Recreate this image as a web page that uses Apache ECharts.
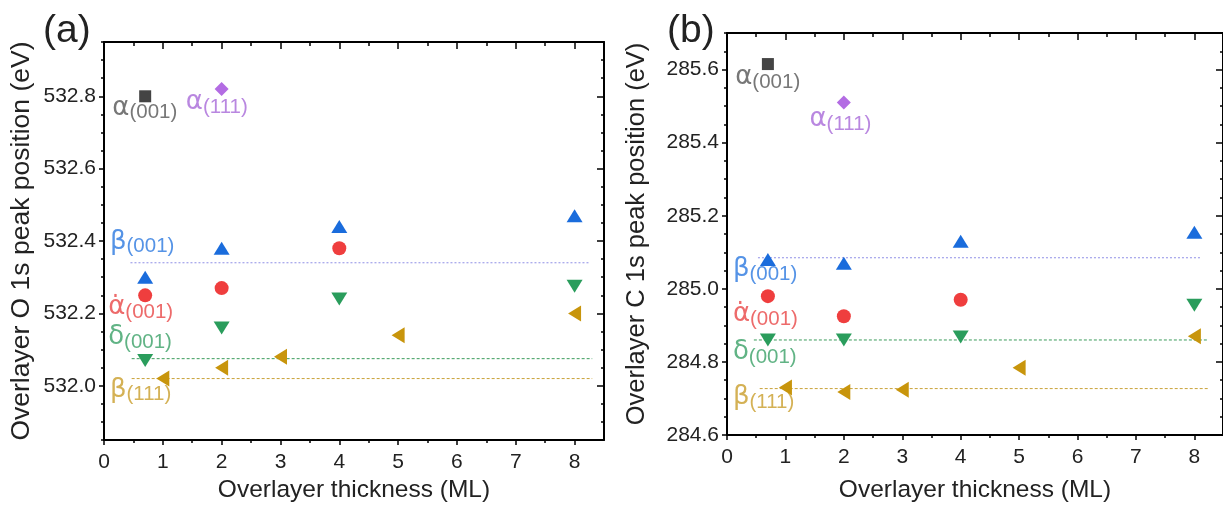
<!DOCTYPE html>
<html>
<head>
<meta charset="utf-8">
<script src="https://cdn.jsdelivr.net/npm/echarts@6/dist/echarts.min.js"></script>
<style>
  html, body { margin: 0; padding: 0; background: #fff; }
  #chart { width: 1223px; height: 508px; }
</style>
</head>
<body>
<div id="chart"></div>
<script>
// ---- Data: overlayer thickness (ML) vs. core-level peak position (eV) ----

// x axis ticks
const xTicks = [0, 1, 2, 3, 4, 5, 6, 7, 8];
const xMinorTicks = [0.5, 1.5, 2.5, 3.5, 4.5, 5.5, 6.5, 7.5];

// (a) O 1s peak position
const oTicks = [532.0, 532.2, 532.4, 532.6, 532.8];
const oAlpha001 = [[0.7, 532.80]];
const oAlpha111 = [[2, 532.82]];
const oBeta001 = [[0.7, 532.30], [2, 532.38], [4, 532.44], [8, 532.47]];
const oAlphaDot001 = [[0.7, 532.25], [2, 532.27], [4, 532.38]];
const oDelta001 = [[0.7, 532.07], [2, 532.16], [4, 532.24], [8, 532.275]];
const oBeta111 = [[1, 532.02], [2, 532.05], [3, 532.08], [5, 532.14], [8, 532.20]];
// bulk reference levels: [from x, to x, energy]
const oRefBeta001 = [0.45, 8.26, 532.34];
const oRefDelta001 = [0.47, 8.30, 532.075];
const oRefBeta111 = [0.47, 8.30, 532.02];

// (b) C 1s peak position
const cTicks = [284.6, 284.8, 285.0, 285.2, 285.4, 285.6];
const cAlpha001 = [[0.7, 285.615]];
const cAlpha111 = [[2, 285.51]];
const cBeta001 = [[0.7, 285.08], [2, 285.07], [4, 285.13], [8, 285.155]];
const cAlphaDot001 = [[0.7, 284.98], [2, 284.925], [4, 284.97]];
const cDelta001 = [[0.7, 284.86], [2, 284.86], [4, 284.868], [8, 284.955]];
const cBeta111 = [[1, 284.73], [2, 284.718], [3, 284.724], [5, 284.784], [8, 284.87]];
const cRefBeta001 = [0.53, 8.10, 285.085];
const cRefDelta001 = [0.46, 8.24, 284.86];
const cRefBeta111 = [0.56, 8.24, 284.727];

// phase labels: [greek letter, facet, x, y, colour key]
const oPhaseLabels = [
  ['α', '(001)', 0.14, 532.765, 'gray'],
  ['α', '(111)', 1.39, 532.78, 'purple'],
  ['β', '(001)', 0.10, 532.395, 'blue'],
  ['α\u0307', '(001)', 0.07, 532.213, 'red'],
  ['δ', '(001)', 0.07, 532.131, 'green'],
  ['β', '(111)', 0.10, 531.986, 'gold']
];
const cPhaseLabels = [
  ['α', '(001)', 0.14, 285.575, 'gray'],
  ['α', '(111)', 1.41, 285.46, 'purple'],
  ['β', '(001)', 0.10, 285.05, 'blue'],
  ['α\u0307', '(001)', 0.10, 284.927, 'red'],
  ['δ', '(001)', 0.10, 284.823, 'green'],
  ['β', '(111)', 0.10, 284.70, 'gold']
];

// ---- Styling ----
const FONT = "'Liberation Sans', Arial, Helvetica, sans-serif";
const GREEK_FONT = "'DejaVu Sans', 'Liberation Sans', sans-serif";
const COLORS = {
  gray:   { mark: '#444444', text: '#555555' },
  purple: { mark: '#b36ce3', text: '#a869d8' },
  blue:   { mark: '#1a6cdc', text: '#2a78e0' },
  red:    { mark: '#ef3e3e', text: '#e84646' },
  green:  { mark: '#2a9d5c', text: '#3aa067' },
  gold:   { mark: '#c8950c', text: '#c99d2a' }
};
const REF_COLORS = { blue: '#8f8fe6', green: '#3c9c5c', gold: '#c9a23a' };

function minorValues(min, max, step, majors) {
  const out = [];
  const n = Math.round((max - min) / step);
  for (let i = 0; i <= n; i++) {
    const v = Math.round((min + i * step) * 1000) / 1000;
    if (!majors.some(m => Math.abs(m - v) < 1e-6)) out.push(v);
  }
  return out;
}

function tickAxis(gridIndex, position, min, max, values, length, inside, lineShown) {
  return {
    type: 'value', gridIndex, position, min, max,
    axisLine: { show: lineShown, onZero: false, lineStyle: { color: '#000', width: 2 } },
    splitLine: { show: false },
    axisTick: { show: true, inside, length, customValues: values,
                lineStyle: { color: '#000', width: 1.5 } },
    axisLabel: { show: false },
    minorTick: { show: false }
  };
}

function buildPanel(p) {
  const g = p.gridIndex;
  const yMinor = minorValues(p.yMin, p.yMax, 0.05, p.yTicks);
  const xAxes = [
    Object.assign(tickAxis(g, 'bottom', 0, p.xMax, xTicks, 5, false, true), {
      name: 'Overlayer thickness (ML)', nameLocation: 'middle', nameGap: p.xNameGap,
      nameTextStyle: { fontFamily: FONT, fontSize: 24.5, color: '#222' },
      axisLabel: { show: true, customValues: xTicks, margin: 12,
                   fontFamily: FONT, fontSize: 21, color: '#222' }
    }),
    tickAxis(g, 'bottom', 0, p.xMax, xMinorTicks, 3, false, false),
    tickAxis(g, 'top', 0, p.xMax, xTicks, 7, true, true),
    tickAxis(g, 'top', 0, p.xMax, xMinorTicks, 4, true, false)
  ];
  const yAxes = [
    Object.assign(tickAxis(g, 'left', p.yMin, p.yMax, p.yTicks, 5, false, true), {
      name: p.yName, nameLocation: 'middle', nameGap: p.yNameGap, nameRotate: 90,
      nameTextStyle: { fontFamily: FONT, fontSize: p.yNameSize, color: '#222' },
      axisLabel: { show: true, customValues: p.yTicks, margin: 8,
                   fontFamily: FONT, fontSize: 21, color: '#222',
                   formatter: v => v.toFixed(1) }
    }),
    tickAxis(g, 'left', p.yMin, p.yMax, yMinor, 3, false, false),
    tickAxis(g, 'right', p.yMin, p.yMax, p.yTicks, 7, true, true),
    tickAxis(g, 'right', p.yMin, p.yMax, yMinor, 3, true, false)
  ];
  const xi = g * 4, yi = g * 4;
  const base = { xAxisIndex: xi, yAxisIndex: yi, animation: false };

  const refLine = (r, color, dash) => Object.assign({
    type: 'line', data: [[r[0], r[2]], [r[1], r[2]]], symbol: 'none', silent: true,
    lineStyle: { color, width: 1, type: dash }, z: 1
  }, base);

  const marks = (data, key, symbol, size, rotate) => Object.assign({
    type: 'scatter', data, symbol, symbolSize: size, symbolRotate: rotate || 0,
    itemStyle: { color: COLORS[key].mark, opacity: 1 }, z: 3
  }, base);

  const labels = Object.assign({
    type: 'scatter', silent: true, symbol: 'circle', symbolSize: 0.1,
    itemStyle: { color: 'rgba(0,0,0,0)' }, z: 4,
    data: p.labels.map(l => ({
      value: [l[2], l[3]],
      label: {
        show: true, position: 'right', distance: 0,
        formatter: '{g|' + l[0] + '}{s|' + l[1] + '}',
        rich: {
          g: { fontFamily: GREEK_FONT, fontSize: 26, lineHeight: 28, padding: [0, 0, 3, 0],
               verticalAlign: 'top', color: COLORS[l[4]].text },
          s: { fontFamily: FONT, fontSize: 20.5, lineHeight: 20,
               verticalAlign: 'bottom', color: COLORS[l[4]].text }
        }
      }
    }))
  }, base);

  const series = [
    refLine(p.refs[0], REF_COLORS.blue, [2, 2]),
    refLine(p.refs[1], REF_COLORS.green, [3, 2]),
    refLine(p.refs[2], REF_COLORS.gold, [3, 2]),
    marks(p.series[0], 'gray', 'rect', 12),
    marks(p.series[1], 'purple', 'diamond', 14),
    marks(p.series[2], 'blue', 'triangle', [16, 13]),
    marks(p.series[3], 'red', 'circle', 14),
    marks(p.series[4], 'green', 'triangle', [16, 13], 180),
    marks(p.series[5], 'gold', 'triangle', [16, 13], 90),
    labels
  ];
  return { xAxes, yAxes, series };
}

const panelA = buildPanel({
  gridIndex: 0, xMax: 8.5, yMin: 531.85, yMax: 532.95, yTicks: oTicks,
  yName: 'Overlayer O 1s peak position (eV)', yNameGap: 69, yNameSize: 26.5, xNameGap: 34,
  refs: [oRefBeta001, oRefDelta001, oRefBeta111],
  series: [oAlpha001, oAlpha111, oBeta001, oAlphaDot001, oDelta001, oBeta111],
  labels: oPhaseLabels
});
const panelB = buildPanel({
  gridIndex: 1, xMax: 8.49, yMin: 284.6, yMax: 285.7, yTicks: cTicks,
  yName: 'Overlayer C 1s peak position (eV)', yNameGap: 77, yNameSize: 25.5, xNameGap: 43,
  refs: [cRefBeta001, cRefDelta001, cRefBeta111],
  series: [cAlpha001, cAlpha111, cBeta001, cAlphaDot001, cDelta001, cBeta111],
  labels: cPhaseLabels
});

const chart = echarts.init(document.getElementById('chart'), null, { renderer: 'canvas' });
chart.setOption({
  backgroundColor: '#ffffff',
  animation: false,
  grid: [
    { left: 104, top: 42, width: 500, height: 404, containLabel: false },
    { left: 727, top: 33, width: 499, height: 403, containLabel: false }
  ],
  xAxis: panelA.xAxes.concat(panelB.xAxes),
  yAxis: panelA.yAxes.concat(panelB.yAxes),
  series: panelA.series.concat(panelB.series),
  graphic: [
    { type: 'text', left: 43, top: 12,
      style: { text: '(a)', font: '39px ' + FONT, fill: '#222' } },
    { type: 'text', left: 667, top: 12,
      style: { text: '(b)', font: '39px ' + FONT, fill: '#222' } }
  ]
});
</script>
</body>
</html>
